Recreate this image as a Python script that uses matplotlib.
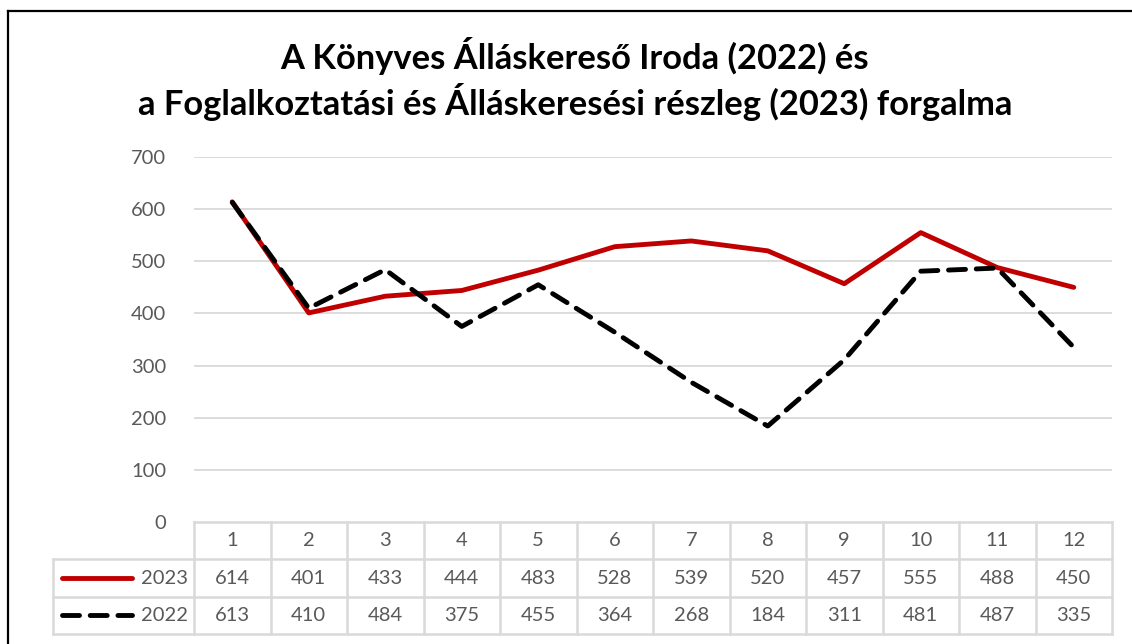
import matplotlib
matplotlib.use('Agg')
import matplotlib.pyplot as plt
from matplotlib.lines import Line2D

plt.rcParams['font.family'] = ['Lato', 'DejaVu Sans']

# Data
months = [1, 2, 3, 4, 5, 6, 7, 8, 9, 10, 11, 12]
y2023 = [614, 401, 433, 444, 483, 528, 539, 520, 457, 555, 488, 450]
y2022 = [613, 410, 484, 375, 455, 364, 268, 184, 311, 481, 487, 335]
yticks = [0, 100, 200, 300, 400, 500, 600, 700]
title = 'A Könyves Álláskereső Iroda (2022) és\na Foglalkoztatási és Álláskeresési részleg (2023) forgalma'

W, H = 1132, 644
RED = '#C00000'
GRID = '#D9D9D9'
TXT = '#595959'

fig = plt.figure(figsize=(W / 100, H / 100), dpi=100)

# outer frame (left and top visible)
fig.add_artist(Line2D([8 / W, 8 / W], [0, 1 - 11 / H], color='black', lw=1.6, transform=fig.transFigure))
fig.add_artist(Line2D([8 / W, 1], [1 - 11 / H, 1 - 11 / H], color='black', lw=1.6, transform=fig.transFigure))

fig.text(575 / W, 1 - 79 / H, title, ha='center', va='center', fontsize=24.8,
         fontweight='bold', linespacing=1.25)

# main plot
ax = fig.add_axes([194 / W, (H - 522) / H, 918 / W, 365 / H])
xs = range(len(months))
ax.plot(xs, y2023, color=RED, lw=3.5, solid_capstyle='round', zorder=3)
ax.plot(xs, y2022, color='black', lw=3.5, dashes=(3.5, 2.2), dash_capstyle='round', zorder=4)
ax.set_xlim(-0.5, len(months) - 0.5)
ax.set_ylim(0, 700)
ax.set_yticks(yticks)
ax.set_xticks([])
ax.tick_params(axis='y', length=0, pad=20, labelsize=14.5, labelcolor=TXT)
for t in yticks[1:]:
    ax.axhline(t, color=GRID, lw=1.3, zorder=1)
for s in ax.spines.values():
    s.set_visible(False)

# data table
tab = fig.add_axes([194 / W, (H - 634) / H, 918 / W, 112 / H])
tab.set_xlim(-0.5, len(months) - 0.5)
tab.set_ylim(0, 3)
tab.axis('off')
left = -0.5 - 141 / 76.5
lk = dict(color=GRID, lw=1.8, clip_on=False, solid_capstyle='projecting')
tab.plot([-0.5, len(months) - 0.5], [3, 3], **lk)
for yy in [0, 1, 2]:
    tab.plot([left, len(months) - 0.5], [yy, yy], **lk)
for i in range(len(months) + 1):
    tab.plot([i - 0.5, i - 0.5], [0, 3], **lk)
tab.plot([left, left], [0, 2], **lk)

fs = 14.5
for i, m in enumerate(months):
    tab.text(i, 2.5, str(m), ha='center', va='center', fontsize=fs, color=TXT)
    tab.text(i, 1.5, str(y2023[i]), ha='center', va='center', fontsize=fs, color=TXT)
    tab.text(i, 0.5, str(y2022[i]), ha='center', va='center', fontsize=fs, color=TXT)

lx0 = -0.5 + (62 - 194) / 76.5
lx1 = -0.5 + (132 - 194) / 76.5
tx = -0.5 + (188 - 194) / 76.5
tab.plot([lx0, lx1], [1.5, 1.5], color=RED, lw=3.5, solid_capstyle='round', clip_on=False)
tab.plot([lx0, lx1], [0.5, 0.5], color='black', lw=3.5, dashes=(3.5, 2.2),
         dash_capstyle='round', clip_on=False)
tab.text(tx, 1.5, '2023', ha='right', va='center', fontsize=fs, color=TXT)
tab.text(tx, 0.5, '2022', ha='right', va='center', fontsize=fs, color=TXT)

fig.savefig('out.png', dpi=100)
